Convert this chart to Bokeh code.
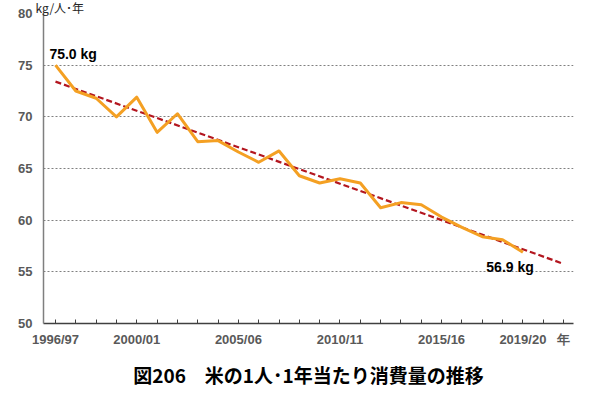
import numpy as np
from bokeh.plotting import figure
from bokeh.models import FixedTicker, Label, Range1d, Title
from bokeh.embed import file_html
from bokeh.resources import INLINE

# ---- data ----
years = ["1996/97", "1997/98", "1998/99", "1999/00", "2000/01", "2001/02", "2002/03",
         "2003/04", "2004/05", "2005/06", "2006/07", "2007/08", "2008/09", "2009/10",
         "2010/11", "2011/12", "2012/13", "2013/14", "2014/15", "2015/16", "2016/17",
         "2017/18", "2018/19", "2019/20", "2020/21", "2021/22"]
consumption = [75.0, 72.5, 71.8, 70.0, 71.9, 68.5, 70.3, 67.6, 67.7, 66.6, 65.6, 66.7,
               64.3, 63.6, 64.0, 63.6, 61.2, 61.7, 61.5, 60.3, 59.3, 58.4, 58.1, 56.9]
shown_labels = ["1996/97", "2000/01", "2005/06", "2010/11", "2015/16", "2019/20"]
year_unit = "年"
y_unit = "kg/人･年"
y_ticks = [50, 55, 60, 65, 70, 75, 80]
title_text = "図206　米の1人･1年当たり消費量の推移"

x_idx = list(range(len(consumption)))
all_idx = list(range(len(years)))

# linear trend (forecast to the end of the axis)
coef = np.polyfit(x_idx, consumption, 1)
trend_x = [0, len(years) - 1]
trend_y = [float(np.polyval(coef, t)) for t in trend_x]

p = figure(width=601, height=398, output_backend="svg", toolbar_location=None,
           x_range=Range1d(-0.59, 25.49), y_range=Range1d(50, 80),
           min_border_left=43, min_border_right=28, min_border_top=0,
           min_border_bottom=75)
p.outline_line_color = None
p.background_fill_color = "white"
p.border_fill_color = "white"

# unit label on top
p.title = Title(text=y_unit, align="left", offset=-8, standoff=-6,
                vertical_align="middle",
                text_font="Noto Sans CJK JP", text_font_size="12px",
                text_font_style="normal", text_color="#262626")

p.line(trend_x, trend_y, line_color="#B3161F", line_width=2.2, line_dash="6 3")
p.line(x_idx, consumption, line_color="#F4A023", line_width=3, line_join="round")

# axes
p.xaxis.ticker = FixedTicker(ticks=all_idx)
overrides = {i: (y if y in shown_labels else "") for i, y in enumerate(years)}
overrides[len(years) - 1] = year_unit
p.xaxis.major_label_overrides = overrides
p.xaxis.axis_line_color = "#404040"
p.xaxis.axis_line_width = 1.3
p.xaxis.major_tick_line_color = "#404040"
p.xaxis.major_tick_in = 4
p.xaxis.major_tick_out = 0
p.xaxis.minor_tick_line_color = None
p.xaxis.major_label_text_font = "Liberation Sans"
p.xaxis.major_label_text_font_style = "bold"
p.xaxis.major_label_text_font_size = "13px"
p.xaxis.major_label_text_color = "#595959"
p.xaxis.major_label_standoff = 8

p.yaxis.ticker = FixedTicker(ticks=y_ticks)
p.yaxis.axis_line_color = "#7f7f7f"
p.yaxis.axis_line_width = 1.5
p.yaxis.major_tick_in = 0
p.yaxis.major_tick_out = 0
p.yaxis.minor_tick_line_color = None
p.yaxis.major_label_text_font = "Liberation Sans"
p.yaxis.major_label_text_font_style = "bold"
p.yaxis.major_label_text_font_size = "13px"
p.yaxis.major_label_text_color = "#595959"
p.yaxis.major_label_standoff = 11

p.xgrid.grid_line_color = None
p.ygrid.grid_line_color = "#808080"
p.ygrid.grid_line_dash = "2 2"
p.ygrid.grid_line_width = 1

# main title below
p.add_layout(Title(text=title_text, align="center", standoff=19,
                   text_font="Noto Sans CJK JP", text_font_style="bold",
                   text_font_size="19px", text_color="black"), "below")

# value annotations
p.add_layout(Label(x=-0.3, y=76.1, text=f"{consumption[0]:.1f} kg", text_font="Liberation Sans",
                   text_font_style="bold", text_font_size="14px", text_color="black",
                   text_align="left", text_baseline="middle"))
p.add_layout(Label(x=21.2, y=55.5, text=f"{consumption[-1]:.1f} kg", text_font="Liberation Sans",
                   text_font_style="bold", text_font_size="14px", text_color="black",
                   text_align="left", text_baseline="middle"))

open("out.html", "w").write(file_html(p, INLINE))
